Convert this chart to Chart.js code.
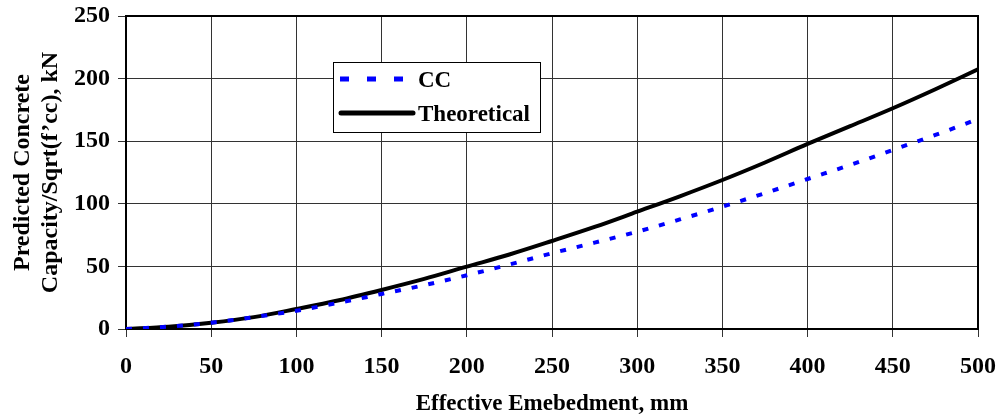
<!DOCTYPE html>
<html>
<head>
<meta charset="utf-8">
<script src="https://cdn.jsdelivr.net/npm/chart.js@4"></script>
<style>
  html, body { margin: 0; padding: 0; background: #fff; }
  #wrap { width: 1000px; height: 418px; }
</style>
</head>
<body>
<div id="wrap"><canvas id="myChart" width="1000" height="418"></canvas></div>
<script>
// embedment depth, mm
const embedment = [0, 25, 50, 75, 100, 125, 150, 175, 200, 225, 250, 275, 300, 325, 350, 375, 400, 425, 450, 475, 500];
// predicted capacity / sqrt(f'cc), kN
const ccValues = [0, 1.9, 5, 9.5, 14.6, 21, 28, 35, 42.9, 51.5, 60.5, 69, 77.7, 87.5, 97.7, 108.5, 119.8, 131, 143, 155, 167.7];
const theoreticalValues = [0, 1.8, 5, 9.5, 16, 23, 31.2, 40, 49.8, 59.5, 70.3, 81.5, 93.7, 106, 119, 133, 147.8, 162, 176.3, 191.5, 207.4];
const xTicks = [0, 50, 100, 150, 200, 250, 300, 350, 400, 450, 500];
const yTicks = [0, 50, 100, 150, 200, 250];

const FONT = "'Liberation Serif', 'Times New Roman', serif";

const toPoints = (vals) => vals.map((v, i) => ({ x: embedment[i], y: v }));

// frame round the plot area
const framePlugin = {
  id: 'frame',
  beforeDatasetsDraw(chart) {
    const { ctx, chartArea: a } = chart;
    ctx.save();
    ctx.strokeStyle = '#000';
    ctx.lineWidth = 2;
    ctx.strokeRect(a.left, a.top, a.right - a.left, a.bottom - a.top);
    ctx.restore();
  }
};

// legend box sitting inside the plot
const boxLegend = {
  id: 'boxLegend',
  afterDraw(chart) {
    const { ctx } = chart;
    const box = { x: 333, y: 62, w: 207, h: 70 };
    ctx.save();
    ctx.fillStyle = '#fff';
    ctx.fillRect(box.x, box.y, box.w, box.h);
    ctx.strokeStyle = '#000';
    ctx.lineWidth = 1;
    ctx.strokeRect(box.x + 0.5, box.y + 0.5, box.w, box.h);

    const rows = [
      { ds: chart.data.datasets[0], y: 79, x1: 340, x2: 403, dash: [9, 18] },
      { ds: chart.data.datasets[1], y: 113, x1: 341, x2: 413, dash: [] }
    ];
    rows.forEach(r => {
      ctx.beginPath();
      ctx.setLineDash(r.dash);
      ctx.strokeStyle = r.ds.borderColor;
      ctx.lineWidth = 5;
      ctx.lineCap = r.dash.length ? 'butt' : 'round';
      ctx.moveTo(r.x1, r.y);
      ctx.lineTo(r.x2, r.y);
      ctx.stroke();
      ctx.setLineDash([]);
      ctx.fillStyle = '#000';
      ctx.font = 'bold 23px ' + FONT;
      ctx.textBaseline = 'middle';
      ctx.textAlign = 'left';
      ctx.fillText(r.ds.label, 418, r.y + 2);
    });
    ctx.restore();
  }
};

const ctx = document.getElementById('myChart').getContext('2d');
new Chart(ctx, {
  type: 'line',
  data: {
    datasets: [{
      label: 'CC',
      data: toPoints(ccValues),
      borderColor: '#0000ff',
      borderWidth: 4,
      borderDash: [6, 11],
      pointRadius: 0,
      cubicInterpolationMode: 'monotone',
      fill: false
    }, {
      label: 'Theoretical',
      data: toPoints(theoreticalValues),
      borderColor: '#000000',
      borderWidth: 4,
      pointRadius: 0,
      cubicInterpolationMode: 'monotone',
      fill: false
    }]
  },
  options: {
    responsive: false,
    animation: false,
    layout: { padding: { left: 0, right: 22, top: 16, bottom: 0 } },
    plugins: {
      legend: { display: false },
      tooltip: { enabled: false }
    },
    scales: {
      x: {
        type: 'linear',
        min: 0,
        max: 500,
        afterFit: (s) => { s.height = 89; s.paddingLeft = 0; s.paddingRight = 0; },
        afterBuildTicks: (s) => { s.ticks = xTicks.map(v => ({ value: v })); },
        grid: { color: '#333', lineWidth: 1, tickLength: 8 },
        border: { color: '#000', width: 2 },
        ticks: {
          color: '#000',
          padding: 15,
          maxRotation: 0,
          font: { family: FONT, size: 24, weight: 'bold' }
        },
        title: {
          display: true,
          text: 'Effective Emebedment, mm',
          color: '#000',
          padding: { top: 0, bottom: 0 },
          font: { family: FONT, size: 23, weight: 'bold', lineHeight: 1.2 }
        }
      },
      y: {
        min: 0,
        max: 250,
        afterFit: (s) => { s.width = 126; s.paddingTop = 0; s.paddingBottom = 0; },
        afterBuildTicks: (s) => { s.ticks = yTicks.map(v => ({ value: v })); },
        grid: { color: '#333', lineWidth: 1, tickLength: 8 },
        border: { color: '#000', width: 2 },
        ticks: {
          color: '#000',
          padding: 8,
          font: { family: FONT, size: 24, weight: 'bold' }
        },
        title: {
          display: true,
          text: ['Predicted Concrete', 'Capacity/Sqrt(f\u2019cc), kN'],
          color: '#000',
          padding: { top: 8, bottom: 0 },
          font: { family: FONT, size: 24, weight: 'bold', lineHeight: 1.2 }
        }
      }
    }
  },
  plugins: [framePlugin, boxLegend]
});
</script>
</body>
</html>
